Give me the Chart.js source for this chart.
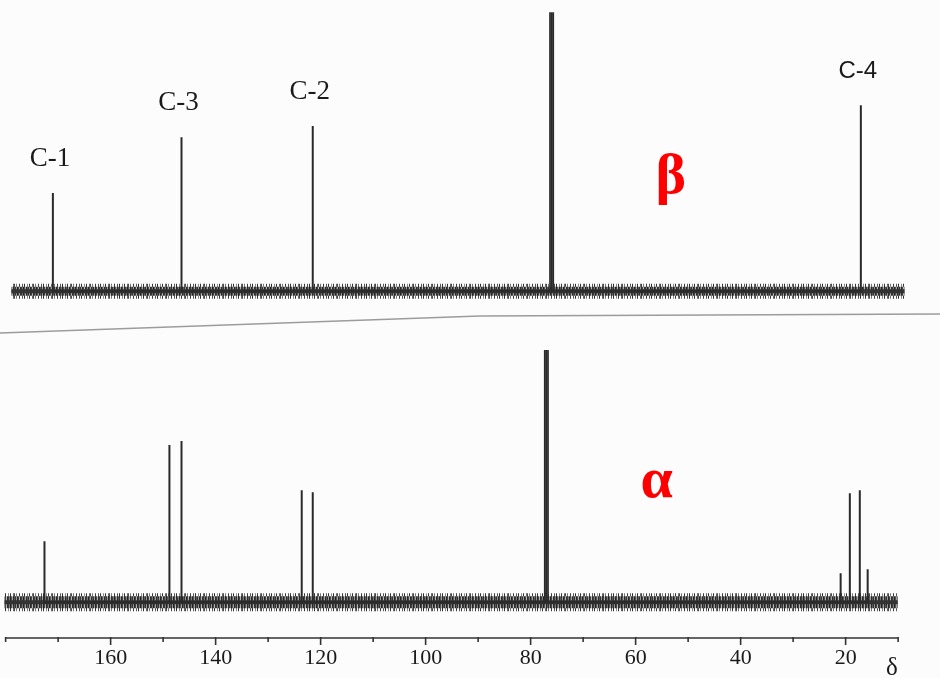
<!DOCTYPE html>
<html>
<head>
<meta charset="utf-8">
<script src="https://cdn.jsdelivr.net/npm/chart.js@4.4.1/dist/chart.umd.min.js"></script>
<style>
  html,body{margin:0;padding:0;background:#fcfcfc;}
  #wrap{width:940px;height:678px;}
</style>
</head>
<body>
<div id="wrap"><canvas id="nmr" width="940" height="678"></canvas></div>
<script>
// ===== Data =====
// beta anomer (top trace), shifts in ppm and relative heights
const betaShifts  = [171.0, 146.5, 121.5, 17.1];
const betaHeights = [33.7, 52.9, 56.7, 63.9];
const betaLabels  = ["C-1", "C-3", "C-2", "C-4"];
const betaSolvent = [76.32, 76.0, 75.68];      // CDCl3 triplet
const betaSolventH = [95.8, 95.8, 95.8];

// alpha anomer (bottom trace)
const alphaShifts  = [172.6, 148.8, 146.5, 123.6, 121.5, 20.95, 19.2, 17.3, 15.8];
const alphaHeights = [21.3, 54.9, 56.3, 39.1, 38.4, 10.1, 38.1, 39.1, 11.5];
const alphaSolvent = [77.32, 77.0, 76.68];
const alphaSolventH = [88.1, 88.1, 88.1];

// baseline extent of each trace (ppm)
const betaRange  = [178.9, 8.8];
const alphaRange = [180.2, 10.1];

// axis
const majorTicks = [160, 140, 120, 100, 80, 60, 40, 20];
const minorTicks = [180, 170, 150, 130, 110, 90, 70, 50, 30, 10];

// ===== Helpers =====
function sticks(xs, hs){
    const pts=[];
    xs.forEach((x,i)=>{ pts.push({x,y:0},{x,y:hs[i]},{x,y:0}); });
    return pts;
}
function stripes(shades){
    // 1px-high tile of grey columns, used as a stroke pattern for the noise band
    const c=document.createElement("canvas"); c.width=shades.length; c.height=1;
    const g=c.getContext("2d");
    shades.forEach((s,i)=>{ if(s){ g.fillStyle=s; g.fillRect(i,0,1,1); } });
    return g.createPattern(c,"repeat");
}
// two tiles of different widths -> ragged edges once stacked (null = gap)
const bandOuter=stripes(["#3a3a3a",null,null,"#555",null,"#2e2e2e",null,null,"#8a8a8a",
                         null,"#333",null,null,"#666","#4a4a4a",null,"#777",null,null]);
const bandInner=stripes(["#2a2a2a","#5a5a5a","#333","#999","#262626","#444","#b5b5b5","#2e2e2e","#3d3d3d","#7a7a7a",
                         "#222","#555","#a0a0a0"]);
const ink="#2a2a2a";

function lineSet(data, yAxisID, width, color){
    return {data, yAxisID, borderColor:color, borderWidth:width, pointRadius:0, showLine:true, fill:false, tension:0};
}
// chart.js paints dataset 0 last, so the solid core comes first
function baseline(range, yAxisID, width){
    const pts=[{x:range[0],y:0},{x:range[1],y:0}];
    return [
        lineSet(pts, yAxisID, 4, "#333"),
        lineSet(pts, yAxisID, width-6, bandInner),
        lineSet(pts, yAxisID, width, bandOuter)
    ];
}

// ===== Decorations (labels, axis, separator) =====
const decor={
  id:"decor",
  afterDraw(chart){
    const c=chart.ctx, xs=chart.scales.x, yb=chart.scales.yb, ya=chart.scales.ya;
    c.save();
    // scan separator between the two traces
    c.strokeStyle="#9c9c9c"; c.lineWidth=1.5;
    c.beginPath(); c.moveTo(0,333); c.lineTo(480,316); c.lineTo(940,314); c.stroke();

    // axis line + ticks
    const ay=chart.chartArea.bottom;
    c.strokeStyle="#333"; c.lineWidth=1.5;
    c.beginPath(); c.moveTo(xs.getPixelForValue(180),ay); c.lineTo(xs.getPixelForValue(10),ay); c.stroke();
    c.lineWidth=1.6;
    majorTicks.forEach(v=>{ const px=xs.getPixelForValue(v); c.beginPath(); c.moveTo(px,ay-1); c.lineTo(px,ay+7); c.stroke(); });
    minorTicks.forEach(v=>{ const px=xs.getPixelForValue(v); c.beginPath(); c.moveTo(px,ay-1); c.lineTo(px,ay+4); c.stroke(); });
    c.fillStyle="#1a1a1a"; c.font="25px 'Liberation Serif'"; c.textAlign="center"; c.textBaseline="middle";
    c.fillText("δ", xs.getPixelForValue(11.2), ay+30);

    // peak labels on the beta trace
    betaLabels.forEach((t,i)=>{
        c.font = t==="C-4" ? "24px 'Liberation Sans'" : "27px 'Liberation Serif'";
        c.fillText(t, xs.getPixelForValue(betaShifts[i])-3, yb.getPixelForValue(betaHeights[i])-34);
    });

    // anomer tags
    c.fillStyle="#ff0000"; c.font="bold 58px 'Liberation Serif'";
    c.fillText("β", xs.getPixelForValue(53.3), yb.getPixelForValue(38.8));
    c.fillText("α", xs.getPixelForValue(56.0), ya.getPixelForValue(41.9));
    c.restore();
  }
};

// ===== Chart =====
new Chart(document.getElementById("nmr"),{
  type:"scatter",
  data:{datasets:[
    lineSet(sticks(betaShifts,betaHeights),"yb",2,ink),
    lineSet(sticks(betaSolvent,betaSolventH),"yb",1.6,ink),
    ...baseline(betaRange,"yb",15),
    lineSet(sticks(alphaShifts,alphaHeights),"ya",2,ink),
    lineSet(sticks(alphaSolvent,alphaSolventH),"ya",1.6,ink),
    ...baseline(alphaRange,"ya",18)
  ]},
  options:{
    responsive:false, animation:false,
    layout:{padding:{left:3,right:34,top:0,bottom:4}},
    plugins:{legend:{display:false},tooltip:{enabled:false}},
    scales:{
      x:{type:"linear",reverse:true,min:8.5,max:180.5,
         afterBuildTicks:s=>{ s.ticks=majorTicks.map(v=>({value:v})); },
         afterFit:s=>{ s.height=36; },
         grid:{display:false,tickLength:0},border:{display:false},
         ticks:{padding:7,color:"#1a1a1a",font:{family:"'Liberation Serif'",size:22},autoSkip:false,maxRotation:0}},
      ya:{display:false,position:"left",stack:"nmr",stackWeight:322,min:-12.5,max:100},
      yb:{display:false,position:"left",stack:"nmr",stackWeight:316,min:-8.5,max:100}
    }
  },
  plugins:[decor]
});
</script>
</body>
</html>
